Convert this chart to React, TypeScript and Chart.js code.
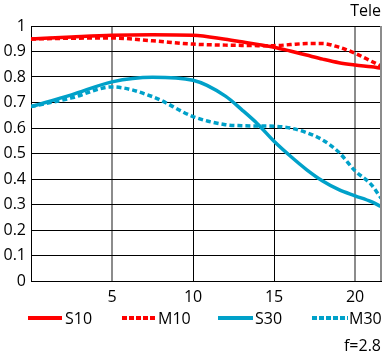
import React, { useEffect, useRef } from "react";
import { Chart, registerables } from "chart.js";

Chart.register(...registerables);

const xs = [0, 2.5, 5, 7.5, 10, 12, 13, 14, 15, 16, 17, 18, 19, 20, 21, 21.6];
const s10 = [0.949, 0.957, 0.964, 0.966, 0.964, 0.948, 0.938, 0.928, 0.917, 0.902, 0.886, 0.870, 0.856, 0.847, 0.840, 0.835];
const m10 = [0.949, 0.952, 0.953, 0.942, 0.929, 0.925, 0.924, 0.923, 0.923, 0.927, 0.931, 0.931, 0.917, 0.893, 0.862, 0.843];
const s30 = [0.684, 0.730, 0.781, 0.799, 0.787, 0.725, 0.672, 0.615, 0.548, 0.490, 0.437, 0.392, 0.358, 0.334, 0.311, 0.292];
const m30 = [0.684, 0.718, 0.761, 0.723, 0.645, 0.613, 0.609, 0.608, 0.607, 0.600, 0.582, 0.553, 0.505, 0.432, 0.378, 0.325];

const seriesNames = ["S10", "M10", "S30", "M30"];
const xTicks = [0, 5, 10, 15, 20, 21.6];
const xTickLabels = ["", "5", "10", "15", "20", ""];
const yTicks = [0, 0.1, 0.2, 0.3, 0.4, 0.5, 0.6, 0.7, 0.8, 0.9, 1];
const yTickLabels = ["0", "0.1", "0.2", "0.3", "0.4", "0.5", "0.6", "0.7", "0.8", "0.9", "1"];
const titleText = "Tele";
const footText = "f=2.8";

const RED = "#ff0000";
const BLUE = "#00a1c9";
const FONT = "'Open Sans', 'Noto Sans', sans-serif";

const seriesValues = [s10, m10, s30, m30];
const seriesColors = [RED, RED, BLUE, BLUE];
const seriesDash: number[][] = [[], [5, 3], [], [5, 3]];

const overlayPlugin = {
  id: "overlay",
  afterDraw(chart: any) {
    const ctx = chart.ctx as CanvasRenderingContext2D;
    const area = chart.chartArea;
    ctx.save();
    // right border
    ctx.strokeStyle = "#8c8c8c";
    ctx.lineWidth = 2;
    ctx.setLineDash([]);
    ctx.beginPath();
    ctx.moveTo(area.right, area.top);
    ctx.lineTo(area.right, area.bottom);
    ctx.stroke();

    ctx.font = `16px ${FONT}`;
    ctx.fillStyle = "#000";
    ctx.textAlign = "right";
    ctx.textBaseline = "alphabetic";
    ctx.fillText(titleText, area.right, 16);
    ctx.fillText(footText, area.right, 351);

    // legend
    const legendY = 318;
    const items = [
      { x1: 28, x2: 62, tx: 65 },
      { x1: 122, x2: 157, tx: 158 },
      { x1: 218, x2: 253, tx: 255 },
      { x1: 312, x2: 348, tx: 349 },
    ];
    items.forEach((it, i) => {
      ctx.strokeStyle = seriesColors[i];
      ctx.lineWidth = 4;
      ctx.setLineDash(seriesDash[i].length ? [5, 2] : []);
      ctx.beginPath();
      ctx.moveTo(it.x1, legendY);
      ctx.lineTo(it.x2, legendY);
      ctx.stroke();
      ctx.setLineDash([]);
      ctx.textAlign = "left";
      ctx.textBaseline = "middle";
      ctx.fillStyle = "#000";
      ctx.fillText(seriesNames[i], it.tx, legendY + 1);
    });
    ctx.restore();
  },
};

export default function App() {
  const ref = useRef<HTMLCanvasElement | null>(null);
  useEffect(() => {
    if (!ref.current) return;
    const chart = new Chart(ref.current, {
      type: "line",
      data: {
        datasets: seriesNames.map((name, i) => ({
          label: name,
          data: xs.map((x, j) => ({ x, y: seriesValues[i][j] })),
          borderColor: seriesColors[i],
          backgroundColor: seriesColors[i],
          borderWidth: 3.5,
          borderDash: seriesDash[i],
          pointRadius: 0,
          fill: false,
          cubicInterpolationMode: "monotone" as const,
        })),
      },
      options: {
        responsive: false,
        animation: false,
        devicePixelRatio: 1,
        layout: { padding: { top: 26, right: 7, left: 0, bottom: 0 } },
        plugins: { legend: { display: false }, tooltip: { enabled: false } },
        scales: {
          x: {
            type: "linear",
            min: 0,
            max: 21.6,
            afterBuildTicks: (s: any) => {
              s.ticks = xTicks.map((v) => ({ value: v }));
            },
            afterFit: (s: any) => {
              s.height = 73;
            },
            ticks: {
              autoSkip: false,
              maxRotation: 0,
              padding: 7,
              color: "#000",
              font: { family: FONT, size: 16 },
              callback: (_v: any, i: number) => xTickLabels[i],
            },
            grid: {
              drawTicks: false,
              color: (c: any) => {
                const v = c.tick ? c.tick.value : 0;
                return v === 5 || v === 20 || v === 21.6 ? "#8c8c8c" : "#000";
              },
              lineWidth: (c: any) => {
                const v = c.tick ? c.tick.value : 0;
                return v === 5 || v === 20 || v === 21.6 ? 2 : 1;
              },
            },
            border: { display: true, color: "#000", width: 1 },
          },
          y: {
            type: "linear",
            min: 0,
            max: 1,
            afterBuildTicks: (s: any) => {
              s.ticks = yTicks.map((v) => ({ value: v }));
            },
            afterFit: (s: any) => {
              s.width = 31;
            },
            ticks: {
              autoSkip: false,
              padding: 5,
              color: "#000",
              font: { family: FONT, size: 16 },
              callback: (_v: any, i: number) => yTickLabels[i],
            },
            grid: { drawTicks: false, color: "#000", lineWidth: 1 },
            border: { display: true, color: "#000", width: 1 },
          },
        },
      },
      plugins: [overlayPlugin],
    });
    return () => chart.destroy();
  }, []);
  return (
    <div style={{ position: "fixed", left: 0, top: 0, width: 388, height: 354, background: "#fff" }}>
      <canvas ref={ref} width={388} height={354} />
    </div>
  );
}
